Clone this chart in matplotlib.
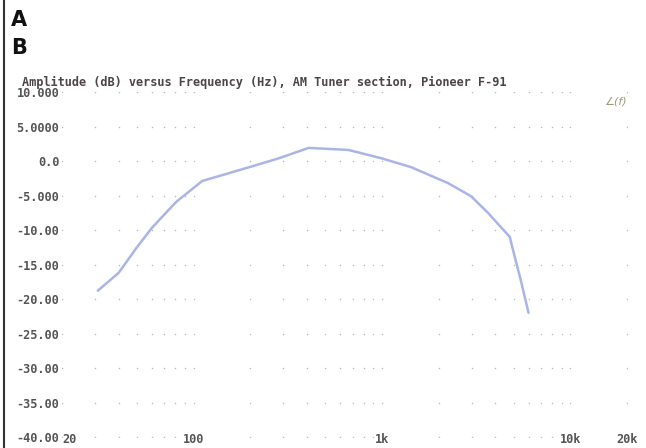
import matplotlib
matplotlib.use("Agg")
import matplotlib.pyplot as plt
import numpy as np

# response (Hz, dB)
freq_hz = [31, 40, 50, 60, 68, 81, 101, 111, 197, 284, 408, 664, 992, 1430, 2240, 2970, 3650, 4770, 5070, 5450, 6000]
amp_db = [-18.8, -16.2, -12.5, -9.7, -8.1, -5.9, -3.8, -2.9, -0.9, 0.4, 1.9, 1.6, 0.4, -0.9, -3.2, -5.1, -7.5, -11.0, -13.9, -17.2, -22.0]

y_ticks = [10, 5, 0, -5, -10, -15, -20, -25, -30, -35, -40]
y_labels = ["10.000", "5.0000", "0.0", "-5.000", "-10.00", "-15.00", "-20.00",
            "-25.00", "-30.00", "-35.00", "-40.00"]
x_ticks = [20, 100, 1000, 10000, 20000]
x_labels = ["20", "100", "1k", "10k", "20k"]

title = "Amplitude (dB) versus Frequency (Hz), AM Tuner section, Pioneer F-91"

mono = {'family': 'DejaVu Sans Mono', 'weight': 'bold', 'size': 8.6}
txt_col = '#555555'

fig = plt.figure(figsize=(6.46, 4.48), dpi=100)
ax = fig.add_axes([62/646, 11/448, 565/646, 345/448])
ax.set_xscale('log')
ax.set_xlim(20, 20000)
ax.set_ylim(-40, 10)

# plotter style grid: dots at the intersections
grid_x = [m * 10**d for d in range(1, 5) for m in range(1, 10) if 20 <= m * 10**d <= 20000]
gx, gy = np.meshgrid(grid_x, y_ticks)
ax.scatter(gx.ravel(), gy.ravel(), s=1.2, color='#bbbbbb', linewidths=0, zorder=1)

ax.plot(freq_hz, amp_db, color='#a9b5e6', lw=1.8, solid_capstyle='round', zorder=3)

for s in ax.spines.values():
    s.set_visible(False)
ax.set_yticks(y_ticks)
ax.set_yticklabels(y_labels, fontdict=mono, color=txt_col)
ax.set_xticks(x_ticks)
ax.set_xticklabels(x_labels, fontdict=mono, color=txt_col)
ax.xaxis.set_minor_locator(matplotlib.ticker.NullLocator())
ax.tick_params(length=0)
ax.tick_params(axis='y', pad=2)
ax.tick_params(axis='x', pad=-3)
ax.get_xticklabels()[0].set_horizontalalignment('left')

fig.text(22/646, 1 - 82/448, title, fontdict=mono, color='#4d4545', va='center', ha='left')
fig.text(11/646, 1 - 20/448, "A", fontsize=15, fontweight='bold', color='#111111', va='center')
fig.text(11/646, 1 - 48/448, "B", fontsize=15, fontweight='bold', color='#111111', va='center')
fig.text(604/646, 1 - 101/448, "\u2220(f)", fontsize=8, style='italic', color='#9c9c78', va='center')

# dark scan edge on the left
fig.add_artist(plt.Line2D([3.5/646, 3.5/646], [0, 1], color='#333333', lw=1.5))

fig.savefig("out.png", dpi=100, facecolor='w')
